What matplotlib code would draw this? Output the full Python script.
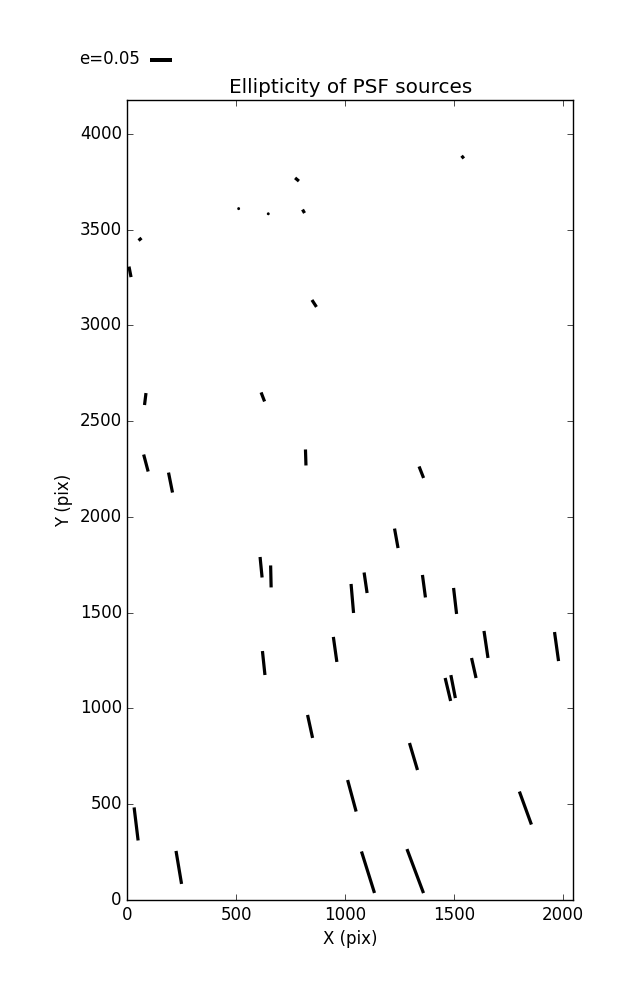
import numpy as np
import matplotlib
matplotlib.use("Agg")
import matplotlib.pyplot as plt

plt.style.use("classic")

# source positions (pix), ellipticity and position angle (deg)
x = [1540, 779, 511, 647, 809, 58, 12, 858, 82, 622, 85, 198, 819, 1350, 1235,
     614, 659, 1033, 1094, 1362, 1505, 954, 626, 1647, 1591, 1472, 1496, 1971,
     839, 1314, 1031, 1828, 40, 236, 1105, 1322]
y = [3878, 3761, 3609, 3582, 3595, 3449, 3279, 3114, 2615, 2626, 2281, 2179,
     2310, 2233, 1888, 1737, 1689, 1574, 1656, 1638, 1561, 1308, 1237, 1334,
     1211, 1099, 1114, 1323, 906, 749, 544, 480, 397, 170, 145, 151]
e = [0.0078, 0.0112, 0.0015, 0.0015, 0.0090, 0.0087, 0.0240, 0.0186, 0.0270,
     0.0217, 0.0394, 0.0457, 0.0359, 0.0277, 0.0444, 0.0462, 0.0493, 0.0653,
     0.0465, 0.0509, 0.0587, 0.0566, 0.0540, 0.0612, 0.0460, 0.0530, 0.0525,
     0.0657, 0.0528, 0.0632, 0.0732, 0.0787, 0.0746, 0.0750, 0.0975, 0.1054]
theta = [130, 140, 90, 90, 120, 40, 101, 123, 83, 111, 104.8, 101.3, 91.8,
         111.4, 100.2, 95.6, 91.3, 94.9, 98.3, 97.6, 96.6, 98, 96, 98.4, 102.7,
         103.4, 101.1, 97.9, 102.3, 106.5, 105.1, 110, 96.9, 99.5, 107.4, 110.6]

key_e = 0.05
key_label = "e=0.05"

x = np.array(x, float)
y = np.array(y, float)
e = np.array(e, float)
th = np.radians(np.array(theta, float))
U = e * np.cos(th)
V = e * np.sin(th)

fig = plt.figure(figsize=(6.37, 10), dpi=100, facecolor="white")
ax = fig.add_axes([0.2, 0.1, 0.7, 0.8])
Q = ax.quiver(x, y, U, V, pivot="middle", headwidth=0, headlength=0,
              headaxislength=0, units="dots", width=3.2,
              scale_units="inches", scale=0.05 / 0.223, color="black")
ax.quiverkey(Q, 0.2355, 0.9405, key_e, key_label, labelpos="W",
             coordinates="figure", fontproperties={"size": 12})
ax.set_xlim(0, 2048)
ax.set_ylim(0, 4176)
ax.set_xticks([0, 500, 1000, 1500, 2000])
ax.set_yticks([0, 500, 1000, 1500, 2000, 2500, 3000, 3500, 4000])
ax.set_xlabel("X (pix)")
ax.set_ylabel("Y (pix)")
ax.set_title("Ellipticity of PSF sources")
fig.savefig("out.png", dpi=100, facecolor="white")
